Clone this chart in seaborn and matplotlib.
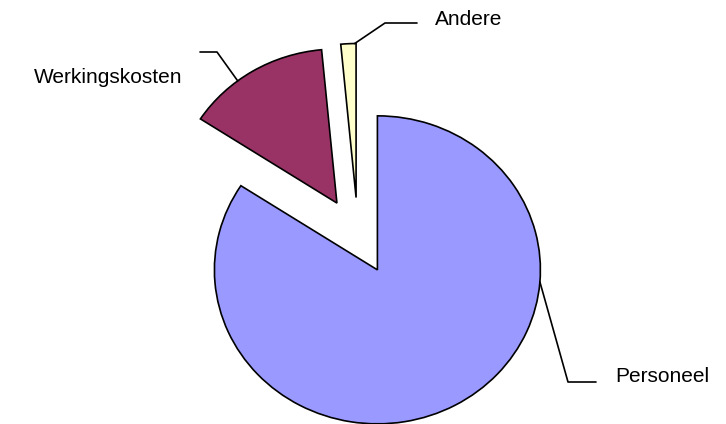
import numpy as np
import matplotlib
matplotlib.use("Agg")
import matplotlib.pyplot as plt
import seaborn as sns

# Kostenverdeling
categories = ["Personeel", "Werkingskosten", "Andere"]
shares = [84.2, 14.3, 1.5]
colors = ["#9999FF", "#993366", "#FFFFCC"]

sns.set_style("white")
plt.rcParams["font.family"] = ["Liberation Sans", "DejaVu Sans"]

W, H = 726, 424
fig = plt.figure(figsize=(W / 100, H / 100), dpi=100)
ax = fig.add_axes([0, 0, 1, 1])

# pixel scale of the (slightly elliptical) pie
sx, sy = 163.0, 154.0
cx, cy = 358.0, 236.0


def px(x, y):
    """image pixel -> data coords"""
    return (x - cx) / sx, (cy - y) / sy


wedges, _ = ax.pie(shares, colors=colors, explode=[0.25] * 3, startangle=90,
                   counterclock=False,
                   wedgeprops=dict(edgecolor="black", linewidth=1.2))

ax.set_aspect("auto")
ax.set_xlim(-cx / sx, (W - cx) / sx)
ax.set_ylim((cy - H) / sy, cy / sy)
ax.axis("off")


def edge_point(w, ang):
    a = np.radians(ang)
    return w.center[0] + w.r * np.cos(a), w.center[1] + w.r * np.sin(a)


# leader lines + labels (angle on the arc, elbow, end, text pos, align)
leaders = [
    (wedges[0], -4.5, (568, 382), (596, 382), (615, 382), "left"),
    (wedges[1], 127.5, (217, 52), (200, 52), (182, 83), "right"),
    (wedges[2], 90.5, (385, 23), (417, 23), (435, 25), "left"),
]
for (w, ang, elbow, end, tpos, ha), name in zip(leaders, categories):
    p0 = edge_point(w, ang)
    p1 = px(*elbow)
    p2 = px(*end)
    ax.plot([p0[0], p1[0], p2[0]], [p0[1], p1[1], p2[1]], color="black", lw=1.2)
    tx, ty = px(*tpos)
    ax.text(tx, ty, name, ha=ha, va="baseline", fontsize=15, color="black")

fig.savefig("out.png", dpi=100)
